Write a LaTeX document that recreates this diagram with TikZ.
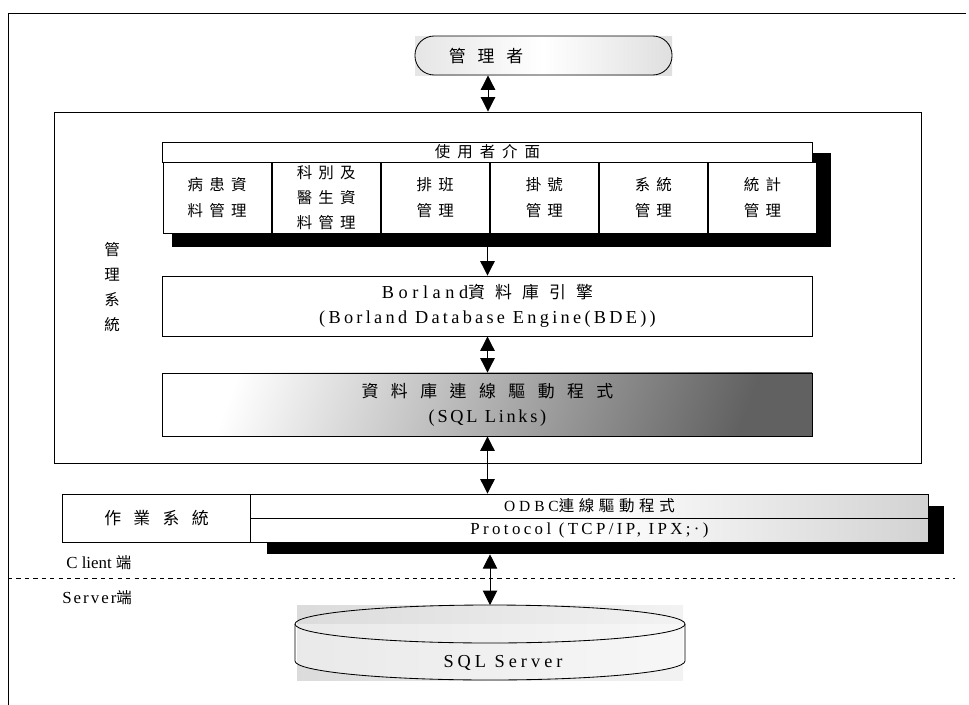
\documentclass[tikz,border=0pt]{standalone}
\usepackage{fontspec}
\setmainfont{Liberation Serif}
\newfontfamily\cjk{Noto Sans CJK TC}
\usetikzlibrary{arrows.meta,positioning,shapes.geometric}
\newcommand{\ls}[1]{\addfontfeatures{LetterSpace=#1}}

\begin{document}
\begin{tikzpicture}[
    x=0.025cm, y=-0.025cm,
    box/.style={rectangle, draw, line width=0.6pt, fill=white, inner sep=0pt, align=center},
    cell/.style={box, minimum width=2.705cm, minimum height=1.775cm, font=\cjk\fontsize{11}{18}\selectfont\ls{40}},
    wide/.style={box, minimum width=16.225cm},
    blackshadow/.style={fill=black, inner sep=0pt},
    lbl/.style={inner sep=0pt, align=center},
    dblarrow/.style={{Triangle[length=3.6mm,width=3.6mm]}-{Triangle[length=3.6mm,width=3.6mm]}, line width=0.7pt},
    onearrow/.style={-{Triangle[length=3.6mm,width=3.6mm]}, line width=0.7pt}
]
    \useasboundingbox (0,0) rectangle (969,705);
    \draw[line width=0.6pt] (966,13) -- (8,13) -- (8,705);

    % top: the user
    \shade[left color=gray!20, right color=gray!25, middle color=white] (415,36) rectangle (672,75);
    \node[draw, rectangle, rounded corners=4.8mm, line width=0.6pt, minimum width=6.425cm, minimum height=0.975cm] (admin) at (543.5,55.5) {};
    \node[lbl, font=\cjk\fontsize{12}{14}\selectfont\ls{70}] (admintext) at (486,56) {管理者};

    % management system
    \node[box, fill=none, minimum width=21.65cm, minimum height=8.775cm] (sys) at (488,287.5) {};
    \node[lbl, font=\cjk\fontsize{11}{17.8}\selectfont] (systext) at (112,287) {管\\理\\系\\統};

    \node[blackshadow, minimum width=16.475cm, minimum height=2.35cm] (uishadow) at (501.5,200) {};
    \node[wide, minimum height=0.5cm, font=\cjk\fontsize{11}{13}\selectfont\ls{45}] (ui) at (487.5,152) {使用者介面};
    \node[cell] (patient) at (217.1,197.5) {病患資\\料管理};
    \node[cell, right=0pt of patient] (dept) {科別及\\醫生資\\料管理};
    \node[cell, right=0pt of dept] (shift) {排班\\管理};
    \node[cell, right=0pt of shift] (reg) {掛號\\管理};
    \node[cell, right=0pt of reg] (sysmgmt) {系統\\管理};
    \node[cell, right=0pt of sysmgmt] (stat) {統計\\管理};

    \node[wide, minimum height=1.5cm, font=\fontsize{13}{17.8}\selectfont] (bde) at (487.5,306)
        {{\ls{25}Borland}{\cjk\fontsize{12}{17.8}\selectfont\ls{60}資料庫引擎}\\{\ls{18}(Borland Database Engine(BDE))}};
    \node[wide, minimum height=1.575cm, left color=white, right color=black!62, shading angle=70, font=\fontsize{13}{17.8}\selectfont] (links) at (487.5,404.5)
        {{\cjk\fontsize{12}{17.8}\selectfont\ls{74}資料庫連線驅動程式}\\{\ls{15}(SQL Links)}};

    % operating system
    \node[box, minimum width=4.725cm, minimum height=1.2cm, font=\cjk\fontsize{12}{14}\selectfont\ls{73}] (os) at (156.5,518) {作業系統};
    \node[blackshadow, minimum width=16.925cm, minimum height=1.2cm] (osshadow) at (605.5,530) {};
    \node[box, minimum width=16.925cm, minimum height=0.6cm, left color=white, right color=gray!35, middle color=white, font=\fontsize{11}{13}\selectfont] (odbc) at (589.5,506)
        {{\ls{25}ODBC}{\cjk\ls{30}連線驅動程式}};
    \node[box, minimum width=16.925cm, minimum height=0.6cm, left color=white, right color=gray!35, middle color=white, font=\fontsize{12}{14}\selectfont] (proto) at (589.5,530)
        {\ls{20}Protocol (TCP/IP, IPX;·)};

    \draw[dashed, line width=0.6pt] (8,578) -- (955,578);
    \node[lbl, anchor=west, font=\fontsize{12}{14}\selectfont] (client) at (66,563) {C lient {\cjk\fontsize{11}{14}\selectfont 端}};
    \node[lbl, anchor=west, font=\fontsize{12}{14}\selectfont] (server) at (62,598) {{\ls{12}Server}{\cjk\fontsize{11}{14}\selectfont 端}};

    % database
    \shade[left color=gray!28, right color=gray!10] (297,605) rectangle (683,680);
    \draw[line width=0.6pt, fill=white, fill opacity=0.4] (295,624) -- (295,661) arc[start angle=180, end angle=0, x radius=195, y radius=19] -- (685,624);
    \draw[line width=0.6pt] (490,624) ellipse[x radius=195, y radius=19];
    \coordinate (dbtop) at (490,605);
    \node[lbl, font=\fontsize{13}{15}\selectfont\ls{22}] (dbtext) at (503,663) {SQL Server};

    \draw[dblarrow] (admin.south -| sys.north) -- (sys.north);
    \draw[onearrow] (uishadow.south -| bde.north) -- (bde.north);
    \draw[dblarrow] (bde.south) -- (links.north);
    \draw[dblarrow] (links.south) -- (links.south |- odbc.north);
    \draw[dblarrow] (dbtop |- osshadow.south) -- (dbtop);
\end{tikzpicture}
\end{document}
